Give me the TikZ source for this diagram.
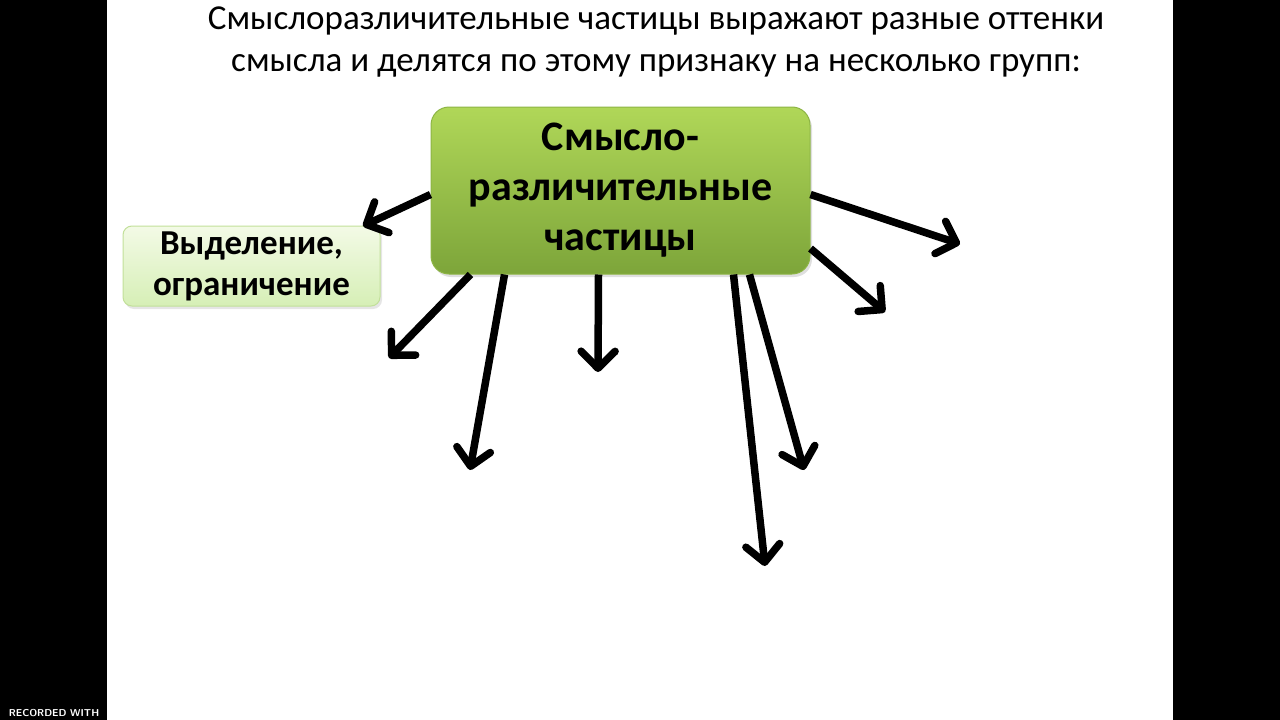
\documentclass[tikz,border=0pt]{standalone}
\usepackage{fontspec}
\setmainfont{Carlito}
\usetikzlibrary{arrows.meta, positioning, shadows}

\definecolor{mainTop}{HTML}{B0D758}
\definecolor{mainBot}{HTML}{7DA53A}
\definecolor{mainEdge}{HTML}{8DB544}
\definecolor{selTop}{HTML}{F3FAE6}
\definecolor{selBot}{HTML}{D6EFB6}
\definecolor{selEdge}{HTML}{C2E09A}

\begin{document}
\begin{tikzpicture}[
  x=1pt, y=-1pt,
  mainbox/.style={rectangle, rounded corners=18pt, draw=mainEdge, line width=1pt,
                  top color=mainTop, bottom color=mainBot,
                  minimum width=379pt, minimum height=167pt, align=center,
                  font=\fontsize{42}{50}\selectfont\bfseries,
                  drop shadow={opacity=0.25, shadow xshift=2pt, shadow yshift=-3pt}},
  selbox/.style={rectangle, rounded corners=9pt, draw=selEdge, line width=1pt,
                 top color=selTop, bottom color=selBot,
                 minimum width=257pt, minimum height=80pt, align=center,
                 inner sep=2pt,
                 font=\fontsize{35}{41}\selectfont\bfseries,
                 drop shadow={opacity=0.2, shadow xshift=2pt, shadow yshift=-3pt}},
  ray/.style={-{Straight Barb[round, length=17pt, width=34pt]}, line width=7.5pt}
]
% frame
\fill[black] (0,0) rectangle (1280,720);
\fill[white] (107,0) rectangle (1173,720);
\useasboundingbox (0,0) rectangle (1280,720);
\node[white, font=\fontsize{10}{12}\selectfont\bfseries\sffamily] (rec) at (54,713) {RECORDED WITH};

% title
\node[align=center, font=\fontsize{35}{42}\selectfont] (title) at (656,42)
  {Смыслоразличительные частицы выражают разные оттенки\\смысла и делятся по этому признаку на несколько групп:};

% boxes
\node[mainbox] (main) at (620.5,190.5) {Смысло-\\различительные\\частицы};
\node[selbox] (sel) at (251.5,266) {Выделение,\\ограничение};

% free ends
\coordinate (e1) at (363,226);
\coordinate (e2) at (389,358);
\coordinate (e3) at (470,470);
\coordinate (e4) at (598,372);
\coordinate (e5) at (765,566);
\coordinate (e6) at (804,470);
\coordinate (e7) at (960,244);
\coordinate (e8) at (885,312);

\draw[ray] ([yshift=-4pt]main.west) -- (e1);
\draw[ray] ([xshift=40pt]main.south west) -- (e2);
\draw[ray] ([xshift=74pt]main.south west) -- (e3);
\draw[ray] ([xshift=-22pt]main.south) -- (e4);
\draw[ray] ([xshift=-77pt]main.south east) -- (e5);
\draw[ray] ([xshift=-61pt]main.south east) -- (e6);
\draw[ray] ([yshift=-4pt]main.east) -- (e7);
\draw[ray] ([yshift=-58pt]main.east) -- (e8);
\end{tikzpicture}
\end{document}
